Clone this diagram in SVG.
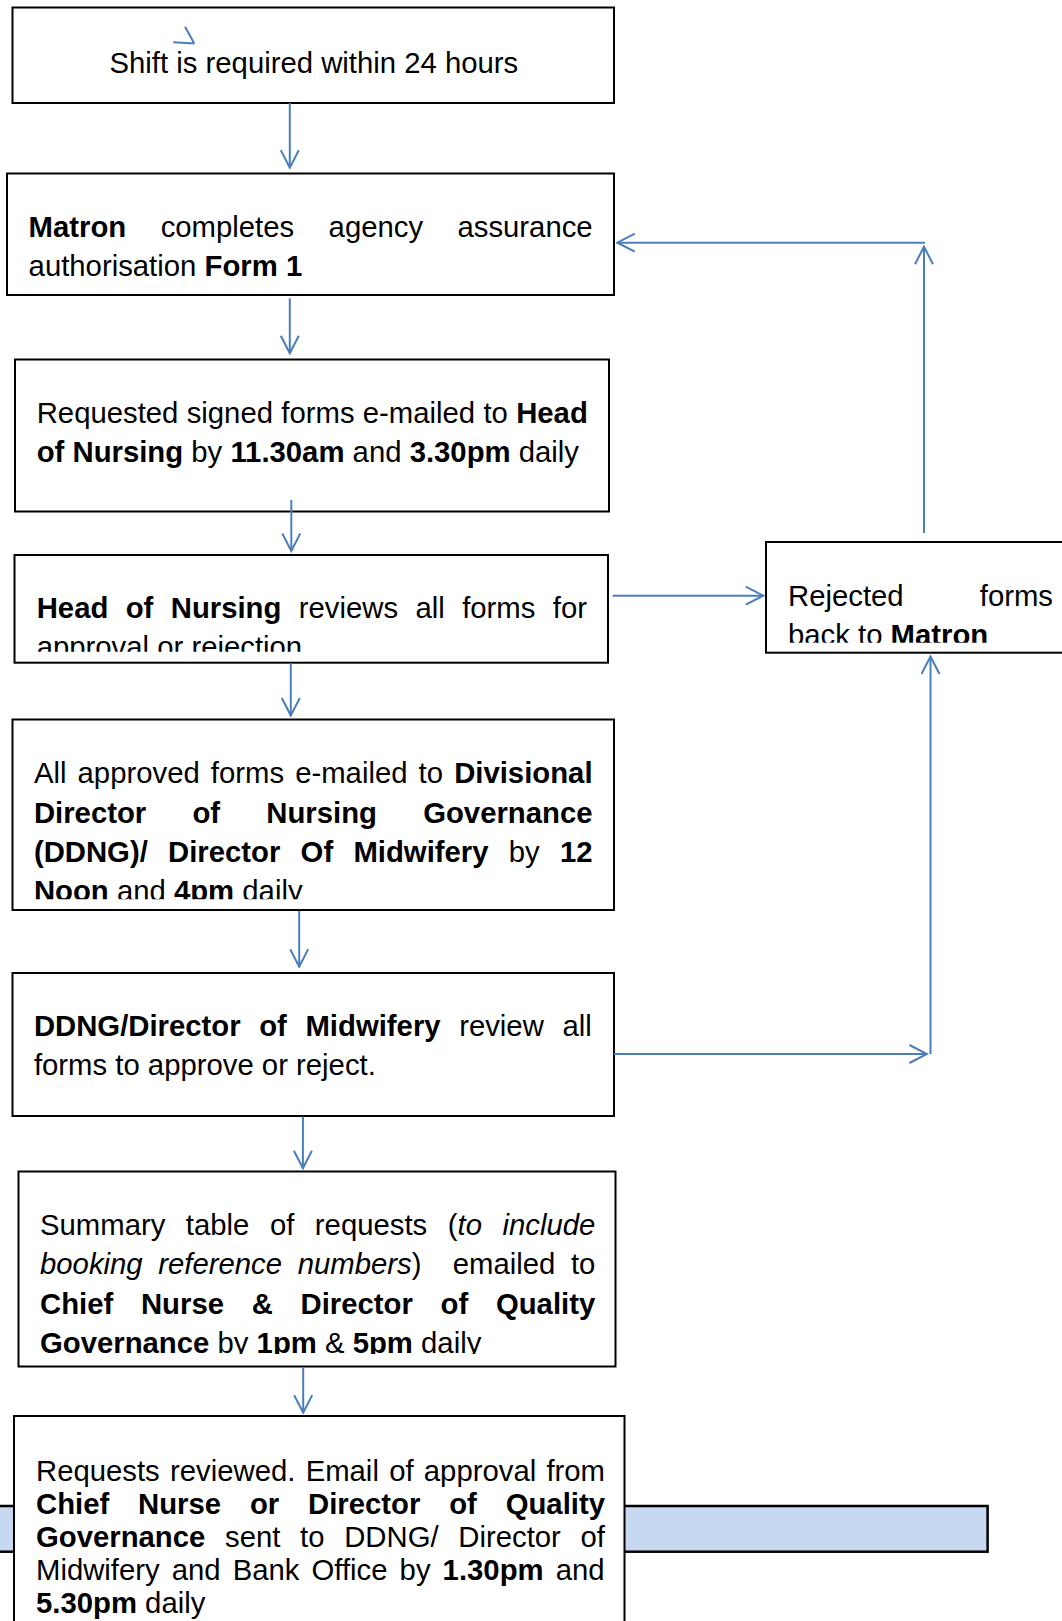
<svg xmlns="http://www.w3.org/2000/svg" width="1062" height="1621" viewBox="0 0 1062 1621">
<style>
.box{fill:#fff;stroke:#000;stroke-width:2}
.band{fill:#c6d9f1;stroke:#000;stroke-width:2.5}
.t{font-family:"Liberation Sans",Arial,sans-serif;font-size:29.3px;fill:#000}
.b{font-weight:bold}
.i{font-style:italic}
.c{fill:none;stroke:#4a7ebb;stroke-width:2}
.ca{fill:none;stroke:#4a7ebb;stroke-width:2;marker-end:url(#ah)}
</style>
<defs>
<marker id="ah" viewBox="0 0 20 20" refX="18.5" refY="10" markerWidth="20" markerHeight="20" markerUnits="userSpaceOnUse" orient="auto">
<path d="M1,1 L18.5,10 L1,19" fill="none" stroke="#4a7ebb" stroke-width="2"/>
</marker>
<clipPath id="clip4"><rect x="14.5" y="555" width="593.5" height="96.7"/></clipPath>
<clipPath id="clip5"><rect x="12.5" y="719.5" width="601.5" height="179.8"/></clipPath>
<clipPath id="clip7"><rect x="18.5" y="1171.5" width="597" height="182.5"/></clipPath>
<clipPath id="clipR"><rect x="766" y="542" width="300" height="100.7"/></clipPath>
</defs>

<rect class="band" x="-10" y="1506" width="997.6" height="45.7"/>

<g id="n1">
<rect class="box" x="12.5" y="7.5" width="601.5" height="95.5"/>
<text class="t" x="109.5" y="72.7">Shift is required within 24 hours</text>
</g>

<g id="n2">
<rect class="box" x="7" y="173.5" width="607" height="121.5"/>
<text class="t" x="28.6" y="237.3" word-spacing="26.27"><tspan class="b">Matron</tspan> completes agency assurance</text>
<text class="t" x="28.6" y="276">authorisation <tspan class="b">Form 1</tspan></text>
</g>

<g id="n3">
<rect class="box" x="15" y="359.5" width="594" height="152"/>
<text class="t" x="36.7" y="422.7" word-spacing="0.14">Requested signed forms e-mailed to <tspan class="b">Head</tspan></text>
<text class="t" x="36.7" y="461.7"><tspan class="b">of Nursing</tspan> by <tspan class="b">11.30am</tspan> and <tspan class="b">3.30pm</tspan> daily</text>
</g>

<g id="n4">
<rect class="box" x="14.5" y="555" width="593.5" height="107.7"/>
<g clip-path="url(#clip4)">
<text class="t" x="36.7" y="618.3" word-spacing="9.23"><tspan class="b">Head of Nursing</tspan> reviews all forms for</text>
<text class="t" x="36.7" y="657">approval or rejection</text>
</g>
</g>

<g id="n5">
<rect class="box" x="12.5" y="719.5" width="601.5" height="190.5"/>
<g clip-path="url(#clip5)">
<text class="t" x="33.9" y="783.3" word-spacing="2.96">All approved forms e-mailed to <tspan class="b">Divisional</tspan></text>
<text class="t b" x="33.9" y="822.5" word-spacing="38.07">Director of Nursing Governance</text>
<text class="t" x="33.9" y="861.5" word-spacing="12.1"><tspan class="b">(DDNG)/ Director Of Midwifery</tspan> by <tspan class="b">12</tspan></text>
<text class="t" x="33.9" y="900.8"><tspan class="b">Noon</tspan> and <tspan class="b">4pm</tspan> daily</text>
</g>
</g>

<g id="n6">
<rect class="box" x="12.5" y="973" width="601.5" height="143"/>
<text class="t" x="33.9" y="1036" word-spacing="10.45"><tspan class="b">DDNG/Director of Midwifery</tspan> review all</text>
<text class="t" x="33.9" y="1075">forms to approve or reject.</text>
</g>

<g id="n7">
<rect class="box" x="18.5" y="1171.5" width="597" height="195"/>
<g clip-path="url(#clip7)">
<text class="t" x="40" y="1234.5" word-spacing="12.38">Summary table of requests (<tspan class="i">to include</tspan></text>
<text class="t" x="40" y="1274" word-spacing="7.5" xml:space="preserve"><tspan class="i">booking reference numbers</tspan>)  emailed to</text>
<text class="t b" x="40" y="1313.5" word-spacing="19.56">Chief Nurse &amp; Director of Quality</text>
<text class="t" x="40" y="1353"><tspan class="b">Governance</tspan> by <tspan class="b">1pm</tspan> &amp; <tspan class="b">5pm</tspan> daily</text>
</g>
</g>

<g id="n8">
<rect class="box" x="14" y="1416" width="610.5" height="230"/>
<text class="t" x="36" y="1481" word-spacing="2.1">Requests reviewed. Email of approval from</text>
<text class="t b" x="36" y="1514" word-spacing="20.68">Chief Nurse or Director of Quality</text>
<text class="t" x="36" y="1547" word-spacing="11.54"><tspan class="b">Governance</tspan> sent to DDNG/ Director of</text>
<text class="t" x="36" y="1580" word-spacing="3.92">Midwifery and Bank Office by <tspan class="b">1.30pm</tspan> and</text>
<text class="t" x="36" y="1613"><tspan class="b">5.30pm</tspan> daily</text>
</g>

<g id="nR">
<rect class="box" x="766" y="542" width="320" height="110.7"/>
<g clip-path="url(#clipR)">
<text class="t" x="788" y="605.5">Rejected</text>
<text class="t" x="1053" y="605.5" text-anchor="end">forms</text>
<text class="t" x="788" y="644.5">back to <tspan class="b">Matron</tspan></text>
</g>
</g>

<g id="connectors">
<path class="c" d="M173.3,42.3 L194.3,43.5 M185,26.7 L194.3,43.5"/>
<path class="ca" d="M289.8,103 V167.7"/>
<path class="ca" d="M289.8,298.3 V353.3"/>
<path class="ca" d="M291.3,500 V551"/>
<path class="ca" d="M290.8,663 V715.5"/>
<path class="ca" d="M299.2,911 V966.7"/>
<path class="ca" d="M302.9,1116.5 V1168.3"/>
<path class="ca" d="M303.2,1367 V1412.7"/>
<path class="ca" d="M612.7,595.7 H763.3"/>
<path class="ca" d="M924,533 V246.7"/>
<path class="ca" d="M925,242.7 H617.3"/>
<path class="ca" d="M614,1054 H927"/>
<path class="ca" d="M930.5,1054 V656.5"/>
</g>
</svg>
